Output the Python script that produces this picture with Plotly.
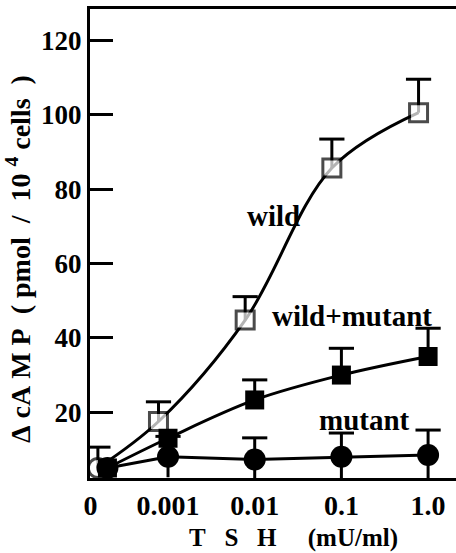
import plotly.graph_objects as go

# ---- data ----
tsh_labels = ["0", "0.001", "0.01", "0.1", "1.0"]
tsh = [0.0, 0.001, 0.01, 0.1, 1.0]          # TSH (mU/ml)
ZERO_AT = 2e-4                               # where zero dose is drawn on the log axis

wild = [5.0, 17.5, 44.8, 85.7, 100.6]
wild_err = [5.6, 5.3, 6.3, 7.8, 9.0]
wild_mutant = [5.0, 13.0, 23.3, 30.0, 35.0]
wild_mutant_err = [0.0, 0.0, 5.4, 7.2, 7.6]
mutant = [5.0, 8.0, 7.3, 8.0, 8.5]
mutant_err = [0.0, 5.5, 5.8, 6.4, 6.7]

y_ticks = [20, 40, 60, 80, 100, 120]

# ---- styling ----
FONT = "Liberation Serif, Times New Roman, serif"
BLACK = "black"
DODGE = 10 ** -0.11   # small horizontal dodge of the wild series (as in the original)
XRANGE = [-3.90, 0.322]
YRANGE = [2.3, 128.5]

xpos = [ZERO_AT if v == 0 else v for v in tsh]
xpos_wild = [p * DODGE for p in xpos]

fig = go.Figure()


def err_bars(x, y, err, lower):
    """Error bars drawn as ordinary scatter lines + cap markers so that the
    data markers (added later) sit on top of them."""
    sx, sy, cx, cy = [], [], [], []
    for xi, yi, ei in zip(x, y, err):
        if ei <= 0:
            continue
        sx += [xi, xi, None]
        sy += [yi - ei if lower else yi, yi + ei, None]
        cx.append(xi)
        cy.append(yi + ei)
    fig.add_trace(go.Scatter(x=sx, y=sy, mode="lines", hoverinfo="skip",
                             line=dict(color=BLACK, width=3)))
    fig.add_trace(go.Scatter(x=cx, y=cy, mode="markers", hoverinfo="skip",
                             marker=dict(symbol="line-ew", size=18,
                                         line=dict(color=BLACK, width=3))))


err_bars(xpos_wild, wild, wild_err, lower=False)
err_bars(xpos, wild_mutant, wild_mutant_err, lower=False)
err_bars(xpos, mutant, mutant_err, lower=True)

fig.add_trace(go.Scatter(
    x=xpos_wild, y=wild, mode="lines+markers", name="wild",
    line=dict(color=BLACK, width=3, shape="spline", smoothing=1.0),
    marker=dict(symbol=["circle"] + ["square"] * 4, size=[19, 18, 18, 18, 18],
                color="white", line=dict(color=BLACK, width=3)),
))

fig.add_trace(go.Scatter(
    x=xpos, y=wild_mutant, mode="lines+markers", name="wild+mutant",
    line=dict(color=BLACK, width=3, shape="spline", smoothing=1.0),
    marker=dict(symbol="square", size=19, color=BLACK),
))

fig.add_trace(go.Scatter(
    x=xpos, y=mutant, mode="lines+markers", name="mutant",
    line=dict(color=BLACK, width=3),
    marker=dict(symbol="circle", size=22, color=BLACK),
))

tickvals = [10 ** -3.895 if v == 0 else v for v in tsh]

fig.update_layout(
    width=456, height=553,
    margin=dict(l=90, r=0, t=9, b=75),
    paper_bgcolor="white", plot_bgcolor="white",
    showlegend=False,
    font=dict(family=FONT, size=26, color=BLACK, weight="bold"),
    xaxis=dict(type="log", range=XRANGE, tickvals=tickvals, ticktext=tsh_labels,
               showline=True, linewidth=3, linecolor=BLACK, mirror=True,
               ticks="", showgrid=False, zeroline=False,
               tickfont=dict(family=FONT, size=28, weight="bold"),
               ticklabelstandoff=0),
    yaxis=dict(range=YRANGE, tickvals=y_ticks,
               showline=True, linewidth=3, linecolor=BLACK, mirror=False,
               ticks="inside", ticklen=23, tickwidth=3, tickcolor=BLACK,
               showgrid=False, zeroline=False,
               tickfont=dict(family=FONT, size=27, weight="bold")),
)


def ann(text, x, y, size=25, angle=0):
    fig.add_annotation(text=text, xref="paper", yref="paper", x=x, y=y,
                       showarrow=False, textangle=angle,
                       font=dict(family=FONT, size=size, color=BLACK, weight="bold"),
                       xanchor="center", yanchor="middle")


NB = "\u00a0"
ann("wild", 0.50, 0.559, size=29)
ann("wild+mutant", 0.716, 0.345, size=29)
ann("mutant", 0.751, 0.124, size=29)

ann("T" + NB * 3 + "S" + NB * 3 + "H" + NB * 5 + "(mU/ml)", 0.557, -0.128, size=25)
ytitle = ("\u0394" + NB + "cA" + NB + "M" + NB + "P" + NB * 2 + "(" + NB + "pmol" + NB * 2 + "/"
          + NB * 2 + "10" + NB + "<sup>4</sup>" + NB + "cells" + NB * 2 + ")")
ann(ytitle, -0.195, 0.466, size=28, angle=-90)

fig.write_html("out.html", config={"displayModeBar": False},
               post_script="document.body.style.margin='0';")
